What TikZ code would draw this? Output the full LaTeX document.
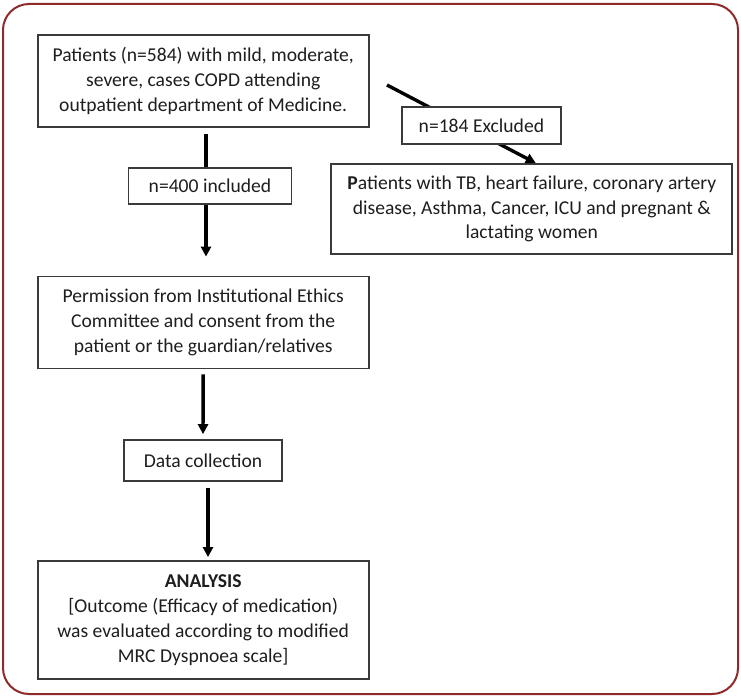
\documentclass[tikz,border=0pt]{standalone}
\usepackage{fontspec}
\setmainfont{Carlito}
\usetikzlibrary{arrows.meta,calc}
\definecolor{frame}{HTML}{8E2A2A}
\definecolor{boxline}{HTML}{3A3A3A}
\definecolor{txt}{HTML}{1E1E1E}
\tikzset{
  box/.style={draw=boxline, line width=1.8pt, fill=white, align=center, inner sep=0pt,
    text=txt, font=\fontsize{19.6}{24.8}\selectfont},
  flow/.style={line width=3.4pt, black, -{Triangle[length=10pt,width=10pt]}},
  plain/.style={line width=3.4pt, black}
}
\begin{document}
\begin{tikzpicture}[x=1pt,y=-1pt]
\useasboundingbox (0,0) rectangle (741,698);
\draw[frame, line width=2pt, rounded corners=26pt] (3,4) rectangle (738,694);

\coordinate (d0) at (387,85);
\coordinate (i0) at (206,134);

\node[box, minimum width=331pt, minimum height=92pt] (p1) at (203.2,81)
  {Patients (n=584) with mild, moderate,\\severe, cases COPD attending\\outpatient department of Medicine.};
\node[box, minimum width=401pt, minimum height=90pt] (ex) at (531.8,209)
  {\textbf{P}atients with TB, heart failure, coronary artery\\disease, Asthma, Cancer, ICU and pregnant \&\\lactating women};
\node[box, minimum width=331pt, minimum height=92pt] (pm) at (203.2,322.5)
  {Permission from Institutional Ethics\\Committee and consent from the\\patient or the guardian/relatives};
\node[box, minimum width=158pt, minimum height=40.7pt] (dc) at (203,460.4) {Data collection};
\node[box, minimum width=331pt, minimum height=118pt] (an) at (203.2,620)
  {\textbf{ANALYSIS}\\{[}Outcome (Efficacy of medication)\\was evaluated according to modified\\MRC Dyspnoea scale{]}};

\draw[flow] (d0) -- ($(ex.north)+(4,0)$);
\draw[flow, shorten >=19pt] (i0) -- (i0 |- pm.north);
\draw[flow, shorten <=5pt, shorten >=5pt] (pm.south) -- (dc.north);
\draw[flow, shorten <=6pt, shorten >=3pt] (dc.south -| 208,0) -- (an.north -| 208,0);

\node[box, minimum width=159pt, minimum height=37pt] (exl) at (481.4,125.5) {n=184 Excluded};
\node[box, minimum width=163pt, minimum height=36.6pt] (inl) at (210,186) {n=400 included};
\end{tikzpicture}
\end{document}
